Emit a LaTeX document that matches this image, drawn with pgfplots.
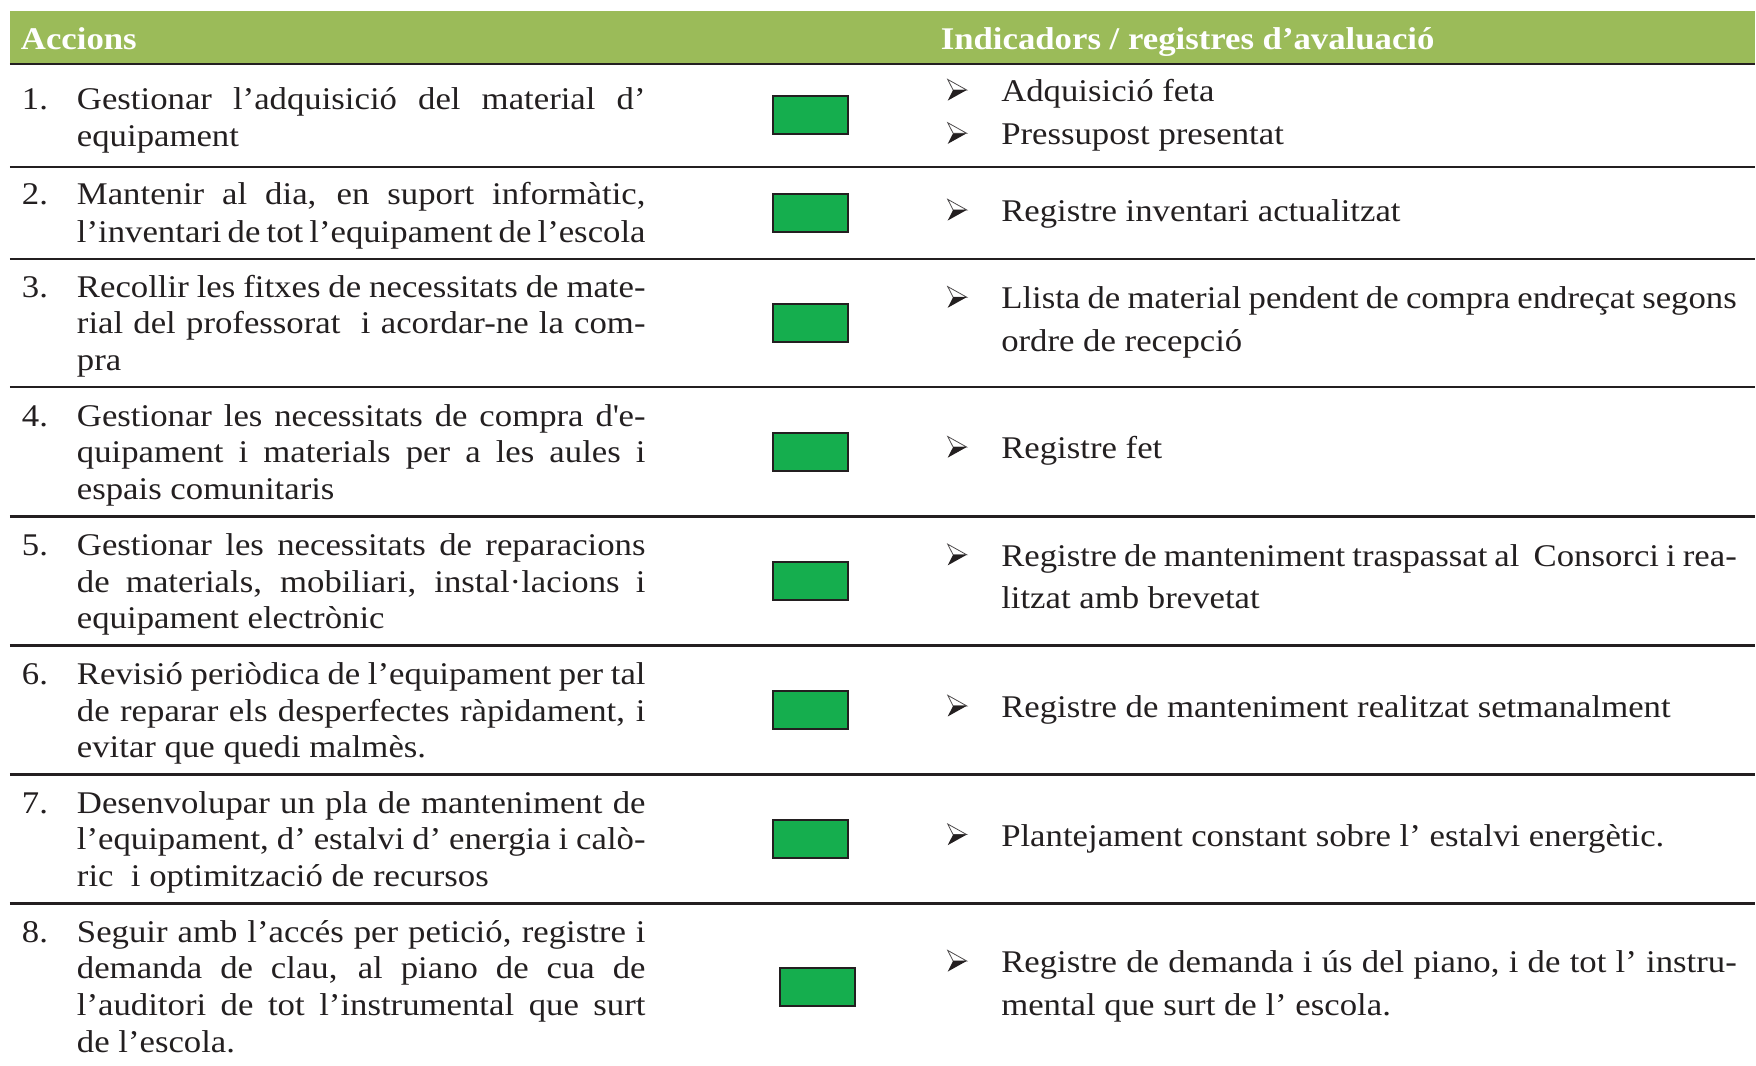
\documentclass[border=0pt]{standalone}
\usepackage{pgfplots}
\pgfplotsset{compat=1.18}
\usepackage{fontspec}
\setmainfont{Liberation Serif}[FakeStretch=1.10]
\definecolor{hdr}{RGB}{155,187,89}
\definecolor{boxg}{RGB}{21,174,78}
\definecolor{txt}{RGB}{35,31,32}
\newcommand{\J}[1]{\makebox[142.25pt][s]{#1}}
\newcommand{\JR}[1]{\makebox[184pt][s]{#1}}
\newcommand{\arr}{\tikz[baseline=-0.25pt]{%
  \draw[line width=0.2pt, draw=txt!80, fill=white, line join=miter] (0pt,5.3pt)--(4.75pt,2.65pt)--(1.35pt,2.65pt)--cycle;
  \fill[txt] (0pt,0pt)--(4.75pt,2.65pt)--(1.35pt,2.65pt)--cycle;}}
\tikzset{T/.style={text=txt, inner sep=0pt, outer sep=0pt, anchor=base west, font=\fontsize{7.9pt}{9pt}\selectfont}}
\begin{document}
\begin{tikzpicture}
\begin{axis}[
  width=439pt, height=266.5pt, scale only axis,
  xmin=0, xmax=1756, ymin=0, ymax=1066, y dir=reverse,
  hide axis, clip=false,
]
% bounding frame (invisible)
\addplot[draw=none, forget plot] coordinates {(0,0) (1756,1066)};
% header band
\addplot[fill=hdr, draw=none, forget plot] coordinates {(10,11) (1756,11) (1756,63.5) (10,63.5)} -- cycle;
% rules
\addplot[txt, line width=0.65pt, forget plot] coordinates {(10,64) (1756,64)};
\addplot[txt, line width=0.6pt, forget plot] coordinates {(10,167) (1756,167)};
\addplot[txt, line width=0.6pt, forget plot] coordinates {(10,259) (1756,259)};
\addplot[txt, line width=0.6pt, forget plot] coordinates {(10,387) (1756,387)};
\addplot[txt, line width=0.6pt, forget plot] coordinates {(10,517) (1756,517)};
\addplot[txt, line width=0.6pt, forget plot] coordinates {(10,646) (1756,646)};
\addplot[txt, line width=0.6pt, forget plot] coordinates {(10,775) (1756,775)};
\addplot[txt, line width=0.6pt, forget plot] coordinates {(10,904) (1756,904)};
% status boxes
\addplot[only marks, mark=square*, mark size=4.75pt,
  mark options={xscale=1.97, fill=boxg, draw=txt, line width=0.5pt}, forget plot]
  coordinates {(810.8,115.4) (810.8,213) (810.8,323) (810.8,452.3) (810.8,581.5) (810.8,710.4) (810.8,839.3) (818.3,987.5)};
% header text
\node[T, text=white] at (axis cs:21,49.3) {\bfseries Accions};
\node[T, text=white] at (axis cs:941.5,49.3) {\bfseries Indicadors / registres d’avaluació};
% left column
\node[T] at (axis cs:22,110) {1.};
\node[T] at (axis cs:77,110) {\J{Gestionar l’adquisició del material d’}};
\node[T] at (axis cs:77,146.7) {equipament};
\node[T] at (axis cs:22,205) {2.};
\node[T] at (axis cs:77,205) {\J{Mantenir al dia, en suport informàtic,}};
\node[T] at (axis cs:77,242.5) {\J{l’inventari de tot l’equipament de l’escola}};
\node[T] at (axis cs:22,297.7) {3.};
\node[T] at (axis cs:77,297.7) {\J{Recollir les fitxes de necessitats de mate-}};
\node[T] at (axis cs:77,334.2) {\J{rial del professorat \ i acordar-ne la com-}};
\node[T] at (axis cs:77,370.7) {pra};
\node[T] at (axis cs:22,426.7) {4.};
\node[T] at (axis cs:77,426.7) {\J{Gestionar les necessitats de compra d\textquotesingle e-}};
\node[T] at (axis cs:77,463.3) {\J{quipament i materials per a les aules i}};
\node[T] at (axis cs:77,500) {espais comunitaris};
\node[T] at (axis cs:22,556) {5.};
\node[T] at (axis cs:77,556) {\J{Gestionar les necessitats de reparacions}};
\node[T] at (axis cs:77,592.6) {\J{de materials, mobiliari, instal·lacions i}};
\node[T] at (axis cs:77,629.2) {equipament electrònic};
\node[T] at (axis cs:22,685) {6.};
\node[T] at (axis cs:77,685) {\J{Revisió periòdica de l’equipament per tal}};
\node[T] at (axis cs:77,721.6) {\J{de reparar els desperfectes ràpidament, i}};
\node[T] at (axis cs:77,758.2) {evitar que quedi malmès.};
\node[T] at (axis cs:22,814) {7.};
\node[T] at (axis cs:77,814) {\J{Desenvolupar un pla de manteniment de}};
\node[T] at (axis cs:77,850.6) {\J{l’equipament, d’ estalvi d’ energia i calò-}};
\node[T] at (axis cs:77,887.2) {ric \ i optimització de recursos};
\node[T] at (axis cs:22,943) {8.};
\node[T] at (axis cs:77,943) {\J{Seguir amb l’accés per petició, registre i}};
\node[T] at (axis cs:77,979.6) {\J{demanda de clau, al piano de cua de}};
\node[T] at (axis cs:77,1016.2) {\J{l’auditori de tot l’instrumental que surt}};
\node[T] at (axis cs:77,1052.8) {de l’escola.};
% right column
\node[T] at (axis cs:948,101.7) {\arr};
\node[T] at (axis cs:1002,101.7) {Adquisició feta};
\node[T] at (axis cs:948,145) {\arr};
\node[T] at (axis cs:1002,145) {Pressupost presentat};
\node[T] at (axis cs:948,221.7) {\arr};
\node[T] at (axis cs:1002,221.7) {Registre inventari actualitzat};
\node[T] at (axis cs:948,309) {\arr};
\node[T] at (axis cs:1002,309) {\JR{Llista de material pendent de compra endreçat segons}};
\node[T] at (axis cs:1002,351.7) {ordre de recepció};
\node[T] at (axis cs:948,459) {\arr};
\node[T] at (axis cs:1002,459) {Registre fet};
\node[T] at (axis cs:948,566.8) {\arr};
\node[T] at (axis cs:1002,566.8) {\JR{Registre de manteniment traspassat al \ Consorci i rea-}};
\node[T] at (axis cs:1002,609.3) {litzat amb brevetat};
\node[T] at (axis cs:948,718) {\arr};
\node[T] at (axis cs:1002,718) {Registre de manteniment realitzat setmanalment};
\node[T] at (axis cs:948,846.8) {\arr};
\node[T] at (axis cs:1002,846.8) {Plantejament constant sobre l’ estalvi energètic.};
\node[T] at (axis cs:948,973.3) {\arr};
\node[T] at (axis cs:1002,973.3) {\JR{Registre de demanda i ús del piano, i de tot l’ instru-}};
\node[T] at (axis cs:1002,1016) {mental que surt de l’ escola.};
\end{axis}
\end{tikzpicture}
\end{document}
